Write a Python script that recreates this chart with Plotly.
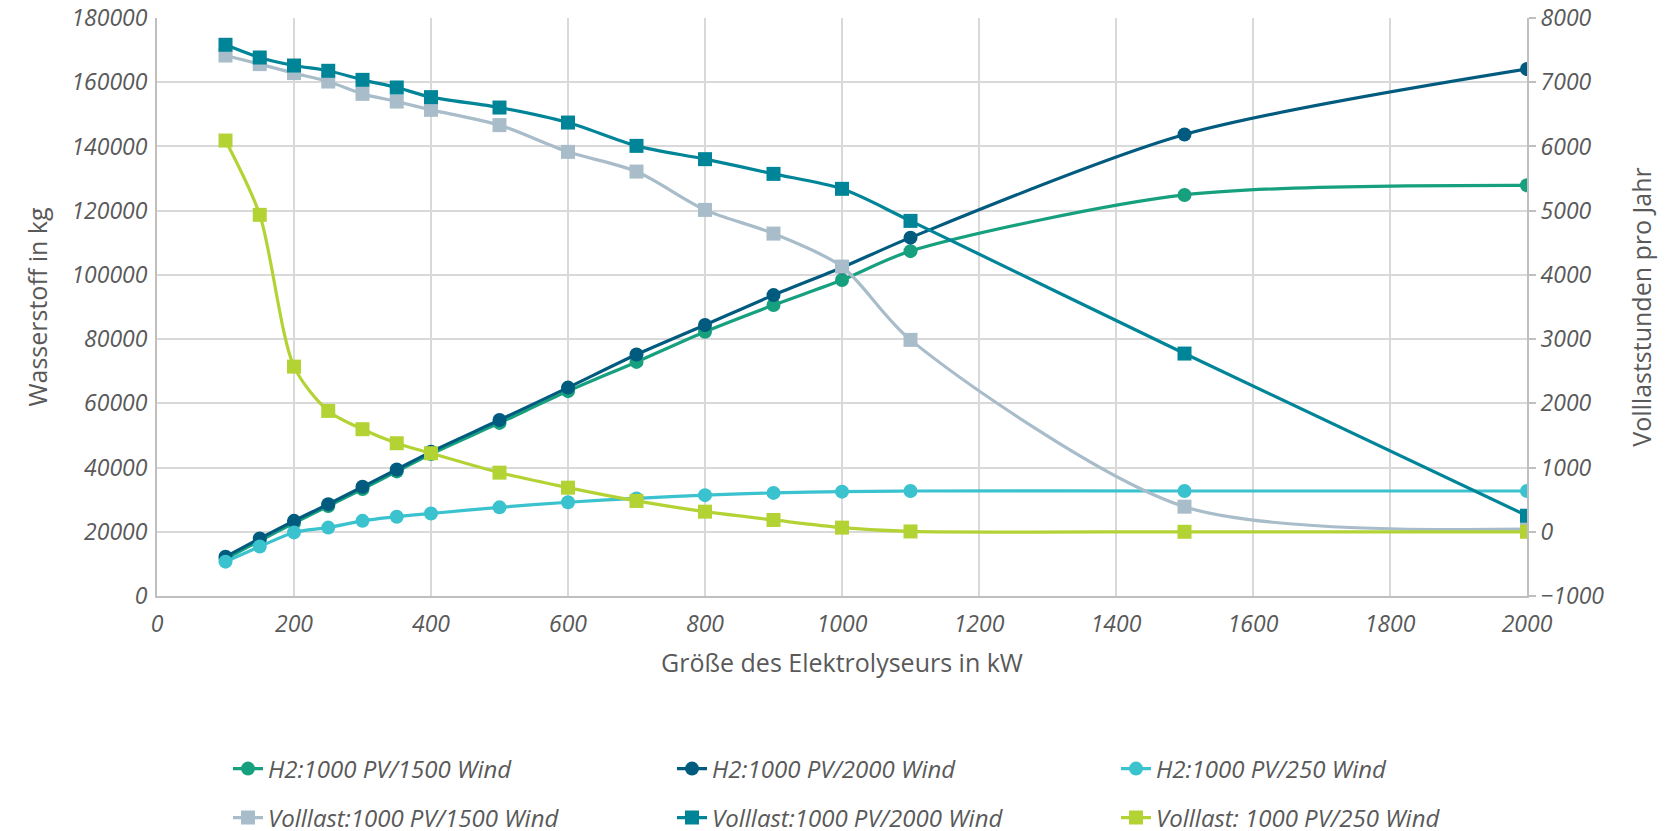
import plotly.graph_objects as go

x_vals = [100, 150, 200, 250, 300, 350, 400, 500, 600, 700, 800, 900, 1000, 1100, 1500, 2000]

h2_1500 = [11500, 17200, 22700, 28000, 33300, 38800, 44200, 53900, 63800, 72900, 82300, 90600, 98400, 107400, 124900, 127900]
h2_2000 = [12200, 17900, 23400, 28600, 34000, 39400, 44900, 54800, 64900, 75200, 84400, 93700, 102300, 111600, 143700, 164100]
h2_250 = [10700, 15400, 19800, 21300, 23400, 24700, 25700, 27600, 29200, 30400, 31400, 32100, 32500, 32700, 32700, 32700]

vl_1500 = [7416, 7282, 7142, 7011, 6819, 6699, 6570, 6332, 5916, 5609, 5012, 4643, 4129, 2988, 391, 40]
vl_2000 = [7583, 7385, 7260, 7178, 7037, 6918, 6768, 6606, 6372, 6009, 5802, 5573, 5340, 4841, 2775, 250]
vl_250 = [6092, 4935, 2572, 1882, 1597, 1379, 1223, 921, 687, 480, 313, 184, 65, 5, 0, 0]

names = [
    "H2:1000 PV/1500 Wind", "H2:1000 PV/2000 Wind", "H2:1000 PV/250 Wind",
    "Volllast:1000 PV/1500 Wind", "Volllast:1000 PV/2000 Wind", "Volllast: 1000 PV/250 Wind",
]
colors = ["#17A07E", "#005B7F", "#3AC2CE", "#A8BCC9", "#008598", "#B3D335"]

series = [
    (h2_1500, "y", "circle"),
    (h2_2000, "y", "circle"),
    (h2_250, "y", "circle"),
    (vl_1500, "y2", "square"),
    (vl_2000, "y2", "square"),
    (vl_250, "y2", "square"),
]

order = [3, 4, 5, 0, 1, 2]
legend_ids = ["legend", "legend2", "legend3", "legend4", "legend5", "legend6"]

fig = go.Figure()
for i in order:
    vals, ax, sym = series[i]
    fig.add_trace(go.Scatter(
        x=x_vals, y=vals, yaxis=ax, name=names[i],
        mode="lines+markers",
        line=dict(color=colors[i], width=3.2, shape="spline", smoothing=0.8),
        marker=dict(symbol=sym, size=14, color=colors[i]),
        legend=legend_ids[i],
    ))

GRAY = "#595959"
tick_font = dict(family="Open Sans", size=23, color=GRAY, style="italic")
title_font = dict(family="Open Sans", size=25, color=GRAY)

W, H = 1668, 831
# page body has an 8px margin; plot area on screen x 157..1527, y 18..596
OFF = 8
L = 157 - OFF
R = W - (1527 - OFF)
T = 18 - OFF
B = H - (596 - OFF)
fig.update_layout(
    width=W, height=H,
    margin=dict(l=L, r=R, t=T, b=B, autoexpand=False),
    paper_bgcolor="white", plot_bgcolor="white",
    font=dict(family="Open Sans", color=GRAY),
    xaxis=dict(
        range=[0, 2000], dtick=200, tick0=0, tickformat="d",
        showgrid=True, gridcolor="#D9D9D9", gridwidth=1.5,
        showline=True, linecolor="#BFBFBF", linewidth=2,
        zeroline=False, ticks="", tickfont=tick_font,
        title=dict(text="Größe des Elektrolyseurs in kW", font=title_font, standoff=17),
        ticklabelstandoff=6, automargin=False, ticklabeloverflow="allow",
    ),
    yaxis=dict(
        range=[0, 180000], dtick=20000, tick0=0, tickformat="d",
        showgrid=True, gridcolor="#D9D9D9", gridwidth=1.5,
        showline=True, linecolor="#BFBFBF", linewidth=2,
        zeroline=False, ticks="", tickfont=tick_font,
        title=dict(text="Wasserstoff in kg", font=title_font, standoff=17),
        ticklabelstandoff=3, automargin=False, ticklabeloverflow="allow",
    ),
    yaxis2=dict(
        range=[-1000, 8000], dtick=1000, tick0=0, tickformat="d",
        overlaying="y", side="right",
        showgrid=False, showline=True, linecolor="#BFBFBF", linewidth=2,
        zeroline=False, ticks="outside", ticklen=7, tickcolor="#BFBFBF", tickwidth=2,
        tickfont=tick_font,
        title=dict(text="Volllaststunden pro Jahr", font=title_font, standoff=30),
        automargin=False, ticklabeloverflow="allow",
    ),
    showlegend=True,
)

def px_to_paper_x(px):
    return (px - L) / (W - L - R)

def px_to_paper_y(py):
    return (H - B - py) / (H - T - B)

leg_font = dict(family="Open Sans", size=24, color=GRAY, style="italic")
col_x = [220, 664, 1108]
row_y = [761, 810]
for k, lid in enumerate(legend_ids):
    r, c = divmod(k, 3)
    fig.update_layout({lid: dict(
        x=px_to_paper_x(col_x[c]), y=px_to_paper_y(row_y[r]),
        xanchor="left", yanchor="middle",
        orientation="h", font=leg_font, bgcolor="rgba(0,0,0,0)",
        borderwidth=0, itemwidth=30,
    )})

fig.write_html("out.html")
